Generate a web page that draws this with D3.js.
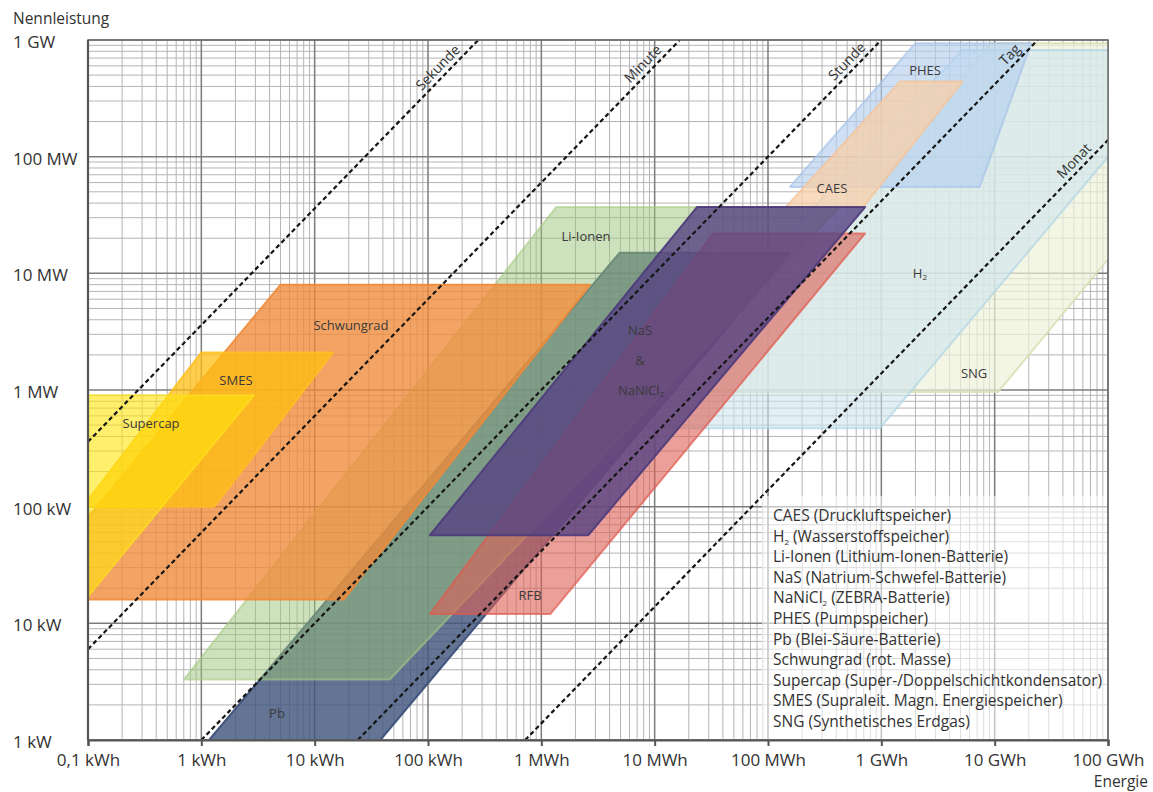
<!DOCTYPE html>
<html><head><meta charset="utf-8">
<script src="https://cdn.jsdelivr.net/npm/d3@7"></script>
<style>
body{margin:0;background:#fff;}
svg{display:block;font-family:"Open Sans","Noto Sans",sans-serif;}
</style></head><body>
<svg id="c" width="1153" height="792"></svg>
<script>
// ---------- data ----------
const xTickValues = [0.1, 1, 10, 100, 1e3, 1e4, 1e5, 1e6, 1e7, 1e8];
const xTickLabels = ["0,1 kWh","1 kWh","10 kWh","100 kWh","1 MWh","10 MWh","100 MWh","1 GWh","10 GWh","100 GWh"];
const yTickValues = [1, 10, 100, 1e3, 1e4, 1e5, 1e6];
const yTickLabels = ["1 kW","10 kW","100 kW","1 MW","10 MW","100 MW","1 GW"];

// technology regions: [energy kWh, power kW]
const technologies = ["SNG","H2","PHES","CAES","Pb","Li-Ionen","RFB","NaS","Schwungrad","SMES","Supercap"];
const regionSNG        = [[25000,960],[1.07e7,960],[3.8e9,940000],[9.3e6,940000]];
const regionH2         = [[3600,470],[970000,470],[6.2e8,820000],[5.2e6,820000]];
const regionPHES       = [[2e6,940000],[2.1e7,940000],[7.4e6,55000],[156000,55000]];
const regionCAES       = [[1.46e6,440000],[5.2e6,440000],[690000,37000],[144000,37000]];
const regionPb         = [[4900,15000],[156000,15000],[38,1],[1.17,1]];
const regionLiIonen    = [[1350,37000],[430000,37000],[46,3.3],[0.7,3.3]];
const regionRFB        = [[33000,22000],[720000,22000],[1200,12],[104,12]];
const regionNaS        = [[23600,37000],[720000,37000],[2600,57],[104,57]];
const regionSchwungrad = [[5,8000],[2700,8000],[18,16],[0.025,16]];
const regionSMES       = [[1,2100],[14.5,2100],[1.3,100],[0.09,100]];
const regionSupercap   = [[0.03,900],[2.9,900],[0.1,17],[0.03,17]];
const regions = [regionSNG, regionH2, regionPHES, regionCAES, regionPb, regionLiIonen, regionRFB, regionNaS, regionSchwungrad, regionSMES, regionSupercap];

// region labels: text, energy, power
const regionLabelText = ["SNG","H_2","PHES","CAES","Pb","Li-Ionen","RFB","NaS","&","NaNiCl_2","Schwungrad","SMES","Supercap"];
const regionLabelE    = [6.58e6, 2.19e6, 2.43e6, 367000, 4.65, 2477, 794, 7430, 7430, 7570, 20.9, 2.02, 0.36];
const regionLabelP    = [1399, 10070, 553000, 53850, 1.7, 20890, 17.5, 3268, 1807, 1000, 3606, 1218, 521];

// constant-duration lines (hours)
const durationNames = ["Sekunde","Minute","Stunde","Tag","Monat"];
const durationHours = [1/3600, 1/60, 1, 24, 720];
const durationLabelE = [141, 9100, 574000, 1.57e7, 5.78e7];

const legendItems = [
  "CAES (Druckluftspeicher)",
  "H_2 (Wasserstoffspeicher)",
  "Li-Ionen (Lithium-Ionen-Batterie)",
  "NaS (Natrium-Schwefel-Batterie)",
  "NaNiCl_2 (ZEBRA-Batterie)",
  "PHES (Pumpspeicher)",
  "Pb (Blei-Säure-Batterie)",
  "Schwungrad (rot. Masse)",
  "Supercap (Super-/Doppelschichtkondensator)",
  "SMES (Supraleit. Magn. Energiespeicher)",
  "SNG (Synthetisches Erdgas)"
];

// ---------- styles ----------
const fills   = ["#eef2d8","#cfe6ee","#b5cfee","#f8cfa8","#41557d","#9cc47a","#dd5f55","#554282","#ef8a38","#ffbd10","#ffe40a"];
const strokes = ["#d3e0b0","#b0d4e6","#a9c6ea","#f5c69e","#3b4e78","#a9cc86","#e0584c","#4c3a7a","#f08a38","#ffc020","#ffe020"];
const opac    = [0.7, 0.6, 0.65, 0.75, 0.82, 0.5, 0.6, 0.8, 0.78, 0.75, 0.6];

// ---------- chart ----------
const L = 88, R = 1108, T = 40, B = 740;
const svg = d3.select("#c");
const x = d3.scaleLog().domain([0.1, 1e8]).range([L, R]);
const y = d3.scaleLog().domain([1, 1e6]).range([B, T]);

// grid
const grid = svg.append("g");
const xMinor = [], yMinor = [];
for (let d = -1; d < 8; d++) for (let k = 2; k <= 9; k++) xMinor.push(k * Math.pow(10, d));
for (let d = 0; d < 6; d++) for (let k = 2; k <= 9; k++) yMinor.push(k * Math.pow(10, d));
grid.selectAll(".xm").data(xMinor).join("line")
  .attr("x1", d => x(d)).attr("x2", d => x(d)).attr("y1", T).attr("y2", B)
  .attr("stroke", "#b5b5b5").attr("stroke-width", 1);
grid.selectAll(".ym").data(yMinor).join("line")
  .attr("y1", d => y(d)).attr("y2", d => y(d)).attr("x1", L).attr("x2", R)
  .attr("stroke", "#b5b5b5").attr("stroke-width", 1);
grid.selectAll(".xM").data(xTickValues).join("line")
  .attr("x1", d => x(d)).attr("x2", d => x(d)).attr("y1", T).attr("y2", B)
  .attr("stroke", "#7c7c7c").attr("stroke-width", 1.5);
grid.selectAll(".yM").data(yTickValues).join("line")
  .attr("y1", d => y(d)).attr("y2", d => y(d)).attr("x1", L).attr("x2", R)
  .attr("stroke", "#7c7c7c").attr("stroke-width", 1.5);

// clip
svg.append("defs").append("clipPath").attr("id", "plot")
  .append("rect").attr("x", L).attr("y", T).attr("width", R - L).attr("height", B - T);

const area = svg.append("g").attr("clip-path", "url(#plot)");
const line = d3.line().x(d => x(d[0])).y(d => y(d[1]));

area.selectAll(".region").data(regions).join("path")
  .attr("d", d => line(d) + "Z")
  .attr("fill", (d, i) => fills[i])
  .attr("fill-opacity", (d, i) => opac[i])
  .attr("stroke", (d, i) => strokes[i])
  .attr("stroke-opacity", (d, i) => Math.min(1, opac[i] + 0.1))
  .attr("stroke-width", 2)
  .attr("stroke-linejoin", "round");

// duration lines
const angle = Math.atan2(y(10) - y(1), x(10) - x(1)) * 180 / Math.PI;
durationHours.forEach((t, i) => {
  const pMin = Math.max(1, 0.1 / t), pMax = Math.min(1e6, 1e8 / t);
  area.append("path")
    .attr("d", line([[pMin * t, pMin], [pMax * t, pMax]]))
    .attr("stroke", "#151515").attr("stroke-width", 2.2)
    .attr("stroke-dasharray", "4.5,3").attr("fill", "none");
  const e = durationLabelE[i], p = e / t;
  svg.append("text")
    .attr("transform", `translate(${x(e)},${y(p)}) rotate(${angle})`)
    .attr("x", 0).attr("y", -5)
    .attr("text-anchor", "middle")
    .attr("font-size", 14).attr("fill", "#333")
    .text(durationNames[i]);
});

// helper for subscript text
function subText(sel, s, subSize) {
  const parts = s.split("_2");
  parts.forEach((p, j) => {
    if (j > 0) {
      sel.append("tspan").attr("dy", 3).attr("font-size", subSize).text("2");
      sel.append("tspan").attr("dy", -3).text(p);
    } else {
      sel.append("tspan").text(p);
    }
  });
}

// region labels
regionLabelText.forEach((s, i) => {
  const t = svg.append("text")
    .attr("x", x(regionLabelE[i])).attr("y", y(regionLabelP[i]))
    .attr("text-anchor", "middle").attr("dominant-baseline", "central")
    .attr("font-size", 13).attr("fill", "#3a3a3a");
  subText(t, s, 8);
});

// legend backdrop
svg.append("rect").attr("x", 762).attr("y", 496).attr("width", R - 762 - 1).attr("height", B - 496 - 1)
  .attr("fill", "#fff").attr("fill-opacity", 0.55);

legendItems.forEach((s, i) => {
  const t = svg.append("text")
    .attr("x", 773).attr("y", 521 + i * 20.6)
    .attr("font-size", 15.5).attr("fill", "#333");
  subText(t, s, 8);
});

// frame
svg.append("rect").attr("x", L).attr("y", T).attr("width", R - L).attr("height", B - T)
  .attr("fill", "none").attr("stroke", "#6e6e6e").attr("stroke-width", 1.5);

// x axis
const xAxis = svg.append("g").attr("transform", `translate(0,${B})`)
  .call(d3.axisBottom(x).tickValues(xTickValues).tickFormat((d, i) => xTickLabels[i]).tickSize(6).tickPadding(8));
xAxis.select(".domain").attr("stroke", "#555").attr("stroke-width", 2.2);
xAxis.selectAll(".tick line").attr("stroke", "#555").attr("stroke-width", 2);
xAxis.selectAll(".tick text").attr("font-size", 17).attr("fill", "#333")
  .attr("font-family", '"Open Sans","Noto Sans",sans-serif');

// y axis
const yAxis = svg.append("g").attr("transform", `translate(13,2)`)
  .call(d3.axisLeft(y).tickValues(yTickValues).tickFormat((d, i) => yTickLabels[i]).tickSize(0));
yAxis.select(".domain").remove();
yAxis.selectAll(".tick text").attr("x", 0).attr("text-anchor", "start")
  .attr("font-size", 17).attr("fill", "#333")
  .attr("font-family", '"Open Sans","Noto Sans",sans-serif');
svg.append("line").attr("x1", L).attr("x2", L).attr("y1", T).attr("y2", B)
  .attr("stroke", "#555").attr("stroke-width", 2.2);

// axis titles
svg.append("text").attr("x", 13).attr("y", 24).attr("font-size", 15.5).attr("fill", "#333").text("Nennleistung");
svg.append("text").attr("x", 1148).attr("y", 787).attr("text-anchor", "end").attr("font-size", 15.5).attr("fill", "#333").text("Energie");
</script>
</body></html>
